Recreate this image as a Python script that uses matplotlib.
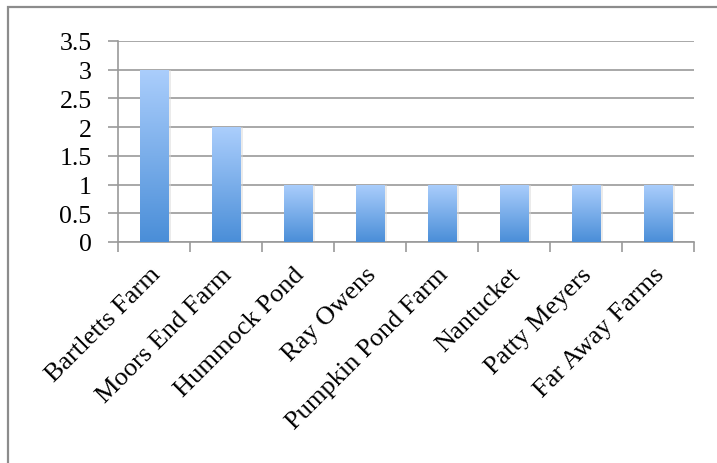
import matplotlib
matplotlib.use("Agg")
import matplotlib.pyplot as plt
import matplotlib.transforms as mtransforms
import numpy as np
from matplotlib.patches import Rectangle
from matplotlib.colors import LinearSegmentedColormap

categories = ["Bartletts Farm", "Moors End Farm", "Hummock Pond", "Ray Owens",
              "Pumpkin Pond Farm", "Nantucket", "Patty Meyers", "Far Away Farms"]
values = [3, 2, 1, 1, 1, 1, 1, 1]
yticks = [0, 0.5, 1, 1.5, 2, 2.5, 3, 3.5]
ytick_labels = ["0", "0.5", "1", "1.5", "2", "2.5", "3", "3.5"]

W, H = 717, 464
fig = plt.figure(figsize=(W / 100, H / 100), dpi=100)
plt.rcParams['font.family'] = ['Liberation Serif', 'DejaVu Serif']

# outer frame (only top and left visible in crop)
fig.add_artist(Rectangle((7.5 / W, -0.05), 1.2, 1 - 7.5 / H + 0.05,
                         transform=fig.transFigure, fill=False,
                         edgecolor="#8c8c8c", linewidth=1.6))

ax = fig.add_axes([118 / W, 1 - 243 / H, (694 - 118) / W, (243 - 42) / H])
x = np.arange(len(categories))
ax.set_xlim(-0.5, len(categories) - 0.5)
ax.set_ylim(0, 3.5)

grid_color = "#9a9a9a"
ax.set_yticks(yticks)
ax.set_yticklabels(ytick_labels, fontsize=18.5)
ax.yaxis.grid(True, color=grid_color, linewidth=1.2)
ax.set_axisbelow(True)

ax.set_xticks(x)
ax.set_xticklabels(categories, rotation=45, ha="right", rotation_mode="anchor",
                   fontsize=19)
ax.tick_params(axis="x", length=0, pad=15)
offset = mtransforms.ScaledTranslation(-5 / 100, 0, fig.dpi_scale_trans)
for lbl in ax.get_xticklabels():
    lbl.set_transform(lbl.get_transform() + offset)
ax.set_xticks(np.arange(-0.5, len(categories)), minor=True)
ax.tick_params(axis="x", which="minor", length=7, width=1.2, color=grid_color, direction="out")
ax.tick_params(axis="y", length=7, width=1.2, color=grid_color, pad=12)

for s in ["top", "right"]:
    ax.spines[s].set_visible(False)
for s in ["left", "bottom"]:
    ax.spines[s].set_color(grid_color)
    ax.spines[s].set_linewidth(1.2)

cmap = LinearSegmentedColormap.from_list("g", ["#4a8ed8", "#abcefc"])
grad = np.linspace(0, 1, 256).reshape(-1, 1)
bw = 0.4
# faint shadow
for xi, v in zip(x, values):
    ax.bar(xi + 0.03, v, width=bw, color="#d8d8d8", alpha=0.5, zorder=2, linewidth=0)
bars = ax.bar(x, values, width=bw, color="none", linewidth=0, zorder=3)
for b in bars:
    x0, y0 = b.get_x(), b.get_y()
    w, h = b.get_width(), b.get_height()
    im = ax.imshow(grad, cmap=cmap, origin="lower", aspect="auto",
                   extent=[x0, x0 + w, y0, y0 + h], zorder=3)
    im.set_clip_path(b)
ax.set_xlim(-0.5, len(categories) - 0.5)
ax.set_ylim(0, 3.5)

fig.savefig("out.png", dpi=100)
